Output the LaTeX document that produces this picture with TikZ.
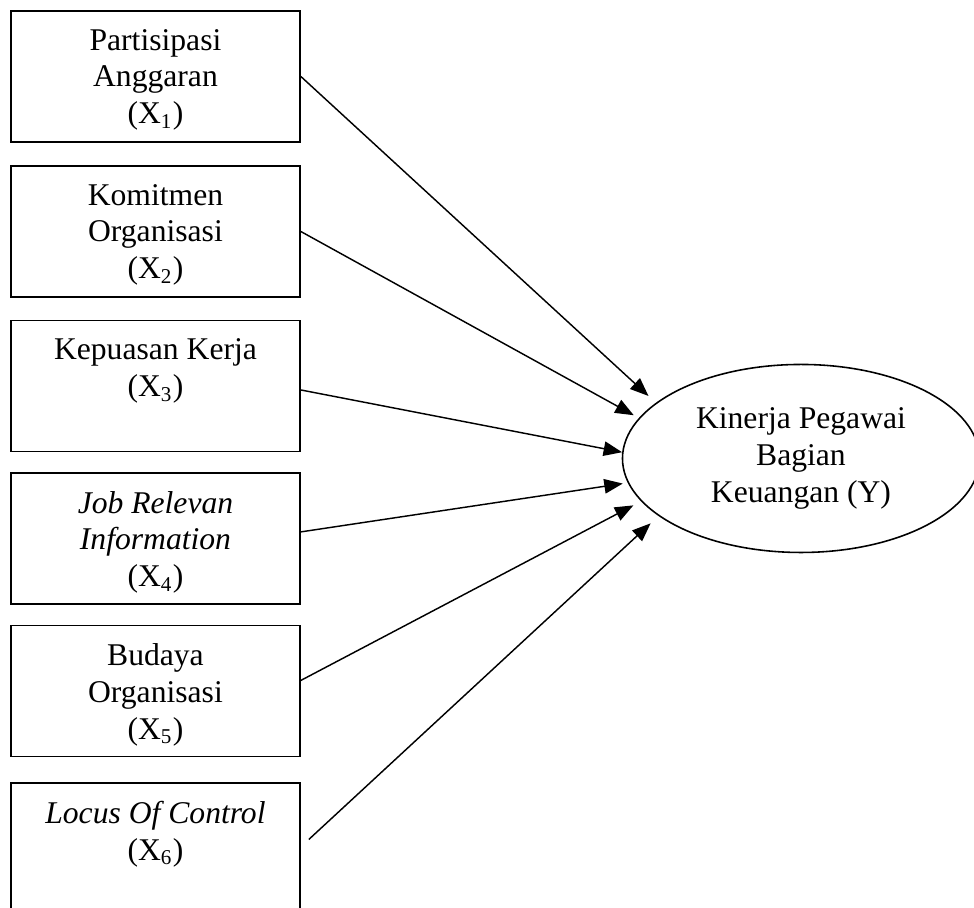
\documentclass[tikz,border=0pt]{standalone}
\usepackage{fontspec}
\setmainfont{Liberation Serif}
\usetikzlibrary{shapes.geometric,arrows.meta}
\begin{document}
\begin{tikzpicture}[varbox/.style={draw,line width=0.7pt,minimum width=3.853cm,minimum height=1.747cm,inner sep=0pt},
  vartext/.style={anchor=north,align=center,inner sep=0pt,yshift=-0.25cm,font=\fontsize{12pt}{13.9pt}\selectfont},
  >={Triangle[length=7pt,width=5.5pt]}]
\useasboundingbox (0,0) rectangle (12.987,-12.107);
\node[varbox] (x1) at (2.073,-1.02) {};
\node[varbox] (x2) at (2.073,-3.087) {};
\node[varbox] (x3) at (2.073,-5.147) {};
\node[varbox] (x4) at (2.073,-7.18) {};
\node[varbox] (x5) at (2.073,-9.213) {};
\node[varbox] (x6) at (2.073,-11.313) {};
\node[vartext] (t1) at (x1.north) {Partisipasi\\Anggaran\\ (X\textsubscript{1})};
\node[vartext] (t2) at (x2.north) {Komitmen\\Organisasi\\(X\textsubscript{2})};
\node[vartext] (t3) at (x3.north) {Kepuasan Kerja\\(X\textsubscript{3})};
\node[vartext] (t4) at (x4.north) {\textit{Job Relevan}\\\textit{Information}\\(X\textsubscript{4})};
\node[vartext] (t5) at (x5.north) {Budaya\\Organisasi\\(X\textsubscript{5})};
\node[vartext] (t6) at (x6.north) {\textit{Locus Of Control}\\(X\textsubscript{6})};

\node[draw,ellipse,line width=0.6pt,minimum width=4.76cm,minimum height=2.507cm,inner sep=0pt,align=center,font=\fontsize{12pt}{13.9pt}\selectfont] (y) at (10.68,-6.113) {Kinerja Pegawai\\Bagian\\Keuangan (Y)};

\path[->,line width=0.55pt]  (x1.east) edge[shorten >=3.8pt] (y.159);
\path[->,line width=0.55pt]  (x2.east) edge[shorten >=2.2pt] (y.166);
\path[->,line width=0.55pt]  ([yshift=-1.5pt]x3.east) edge (y.178);
\path[->,line width=0.55pt]  ([yshift=2.5pt]x4.east) edge[shorten >=1.9pt] (y.-172);
\path[->,line width=0.55pt]  ([yshift=4pt]x5.east) edge[shorten >=3.3pt] (y.-165);
\path[->,line width=0.55pt]  ([xshift=3pt,yshift=3.4pt]x6.east) edge[shorten >=4.1pt] (y.-158);
\end{tikzpicture}
\end{document}
